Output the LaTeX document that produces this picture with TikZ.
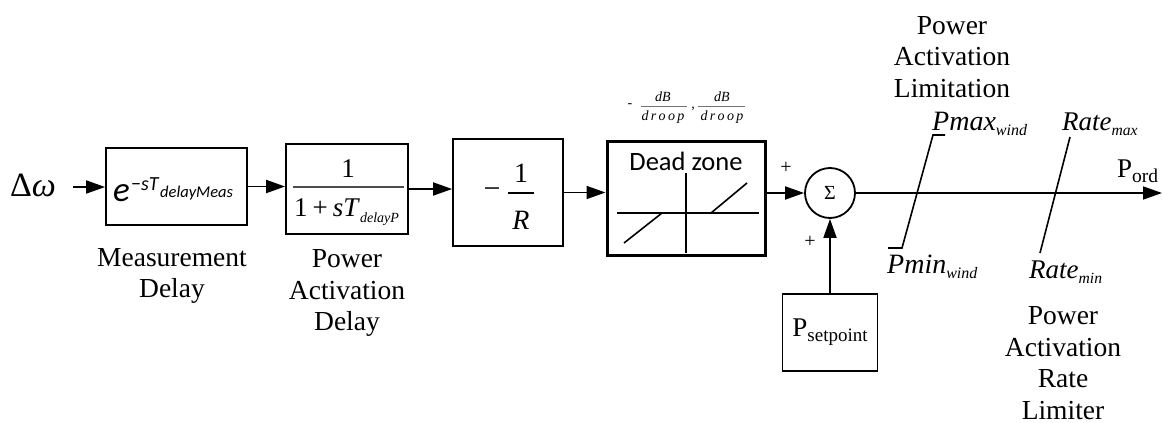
\documentclass[tikz,border=0pt]{standalone}
\usepackage{fontspec}
\setmainfont{Liberation Serif}
\newfontfamily\calib{Carlito}
\usetikzlibrary{arrows.meta}
\newcommand\fsz[1]{\fontsize{#1}{#1}\selectfont}
\begin{document}
\begin{tikzpicture}[x=1pt,y=-1pt,
  blk/.style={draw,line width=1.8pt,inner sep=0pt},
  arr/.style={line width=1.8pt,-{Triangle[length=19pt,width=13pt]}},
  lab/.style={align=center,font=\fontsize{27.5}{31.5}\selectfont,inner sep=0pt},
  txt/.style={inner sep=0pt},
  lim/.style={line width=1.6pt},
  fbar/.style={line width=1.5pt,black!70},
  sbar/.style={line width=0.8pt,black!55},
]
\useasboundingbox (0,0) rectangle (1163,423);

% input
\node[txt,font=\fsz{34}] (dw) at (33,185) {Δ\textit{ω}};
\coordinate (in) at (73,187);

% block 1
\node[blk,minimum width=141pt,minimum height=77pt] (b1) at (176.5,186.5) {};
\node[txt,anchor=base west,font=\calib\itshape\fsz{35}] (b1e) at (113,201) {e};
\node[txt,anchor=base west,font=\calib\fsz{20}] (b1s) at (131,190) {−\textit{sT}};
\node[txt,anchor=base west,font=\calib\itshape\fsz{16.5}] (b1d) at (160,197) {delayMeas};

% block 2
\node[blk,minimum width=122pt,minimum height=90pt] (b2) at (347,189) {};
\coordinate (b2l) at (293,187);
\coordinate (b2r) at (404,187);
\draw[fbar] (b2l) -- (b2r);
\node[txt,font=\fsz{27}] (b2n) at (348,169) {1};
\node[txt,anchor=base west,font=\fsz{27}] (b2d) at (294,216) {1\hspace{5pt}+\hspace{5pt}\textit{sT}\raisebox{-6pt}{\fsz{14}\textit{delayP}}};

% block 3
\node[blk,minimum width=110pt,minimum height=107pt] (b3) at (508,192.5) {};
\node[txt,font=\fsz{30}] (b3m) at (492,193) {−};
\coordinate (b3l) at (508,193);
\coordinate (b3r) at (534,193);
\draw[line width=1.6pt] (b3l) -- (b3r);
\node[txt,font=\fsz{28}] (b3n) at (521,173) {1};
\node[txt,font=\fsz{28}] (b3d) at (521,220) {\textit{R}};

% dead zone
\node[blk,line width=3pt,minimum width=158pt,minimum height=114pt] (dz) at (686,198) {};
\node[txt,font=\calib\fsz{26.5}] (dzt) at (686,161) {Dead zone};
\coordinate (ax1) at (617,213);
\coordinate (ax2) at (759,213);
\coordinate (ay1) at (686,173);
\coordinate (ay2) at (686,253);
\draw[lim] (ax1) -- (ax2);
\draw[lim] (ay1) -- (ay2);
\coordinate (s1a) at (624,243);
\coordinate (s1b) at (662,213);
\coordinate (s2a) at (711,213);
\coordinate (s2b) at (747,183);
\draw[lim] (s1a) -- (s1b);
\draw[lim] (s2a) -- (s2b);

% dB/droop label
\node[txt,font=\fsz{14}] (dbm) at (630,106) {-};
\node[txt,font=\fsz{14}\itshape] (db1n) at (663,97) {dB};
\coordinate (db1l) at (641,106);
\coordinate (db1r) at (687,106);
\draw[sbar] (db1l) -- (db1r);
\node[txt,font=\fsz{14}\itshape] (db1d) at (663,117) {d\,r\,o\,o\,p};
\node[txt,font=\fsz{14}] (dbc) at (693,109) {,};
\node[txt,font=\fsz{14}\itshape] (db2n) at (722,97) {dB};
\coordinate (db2l) at (698,106);
\coordinate (db2r) at (745,106);
\draw[sbar] (db2l) -- (db2r);
\node[txt,font=\fsz{14}\itshape] (db2d) at (722,117) {d\,r\,o\,o\,p};

% summation
\node[circle,draw,line width=1.8pt,minimum size=50pt,inner sep=0pt,font=\fsz{20}] (sum) at (830,193) {Σ};
\node[txt,font=\fsz{20}] (p1) at (786,168) {+};
\node[txt,font=\fsz{20}] (p2) at (810,242) {+};

% setpoint
\node[blk,minimum width=95pt,minimum height=77pt,font=\fsz{27}] (ps) at (830,332.5) {P\raisebox{-5pt}{\fsz{19}setpoint}};

% output
\coordinate (out) at (1162,193);
\node[txt,anchor=base west,font=\fsz{27}] (pord) at (1117,177) {P\raisebox{-5pt}{\fsz{19.5}ord}};

% connectors
\draw[arr] (in) -- (in -| b1.west);
\draw[arr] (b1.east) -- (b1.east -| b2.west);
\draw[arr] (b2.east) -- (b2.east -| b3.west);
\draw[arr] (b3.east) -- (b3.east -| dz.west);
\draw[arr] (sum.west -| dz.east) -- (sum.west);
\draw[arr] (sum.east) -- (out);
\draw[arr] (ps.north) -- (sum.south);

% limiter
\coordinate (l1) at (945,135);
\coordinate (l2) at (933,135);
\coordinate (l3) at (902,248);
\coordinate (l4) at (888,248);
\draw[lim] (l1) -- (l2) -- (l3) -- (l4);
\node[txt,anchor=base west,font=\fsz{28}] (pmax) at (932,130) {\textit{Pmax}\raisebox{-5pt}{\fsz{16}\textit{wind}}};
\node[txt,anchor=base west,font=\fsz{28}] (pmin) at (887,273) {\textit{Pmin}\raisebox{-5pt}{\fsz{16}\textit{wind}}};

% rate limiter
\coordinate (r1) at (1070,137);
\coordinate (r2) at (1040,253);
\draw[lim] (r1) -- (r2);
\node[txt,anchor=base west,font=\fsz{27}] (rmax) at (1062,130) {\textit{Rate}\raisebox{-5pt}{\fsz{15.6}\textit{max}}};
\node[txt,anchor=base west,font=\fsz{27}] (rmin) at (1029,278) {\textit{Rate}\raisebox{-5pt}{\fsz{15.6}\textit{min}}};

% labels
\node[lab] (ml) at (172,276) {Measurement\\Delay};
\node[lab] (pad) at (347,293) {Power\\Activation\\Delay};
\node[lab] (pal) at (952,57) {Power\\Activation\\Limitation};
\node[lab] (parl) at (1063,363) {Power\\Activation\\Rate\\Limiter};
\end{tikzpicture}
\end{document}
